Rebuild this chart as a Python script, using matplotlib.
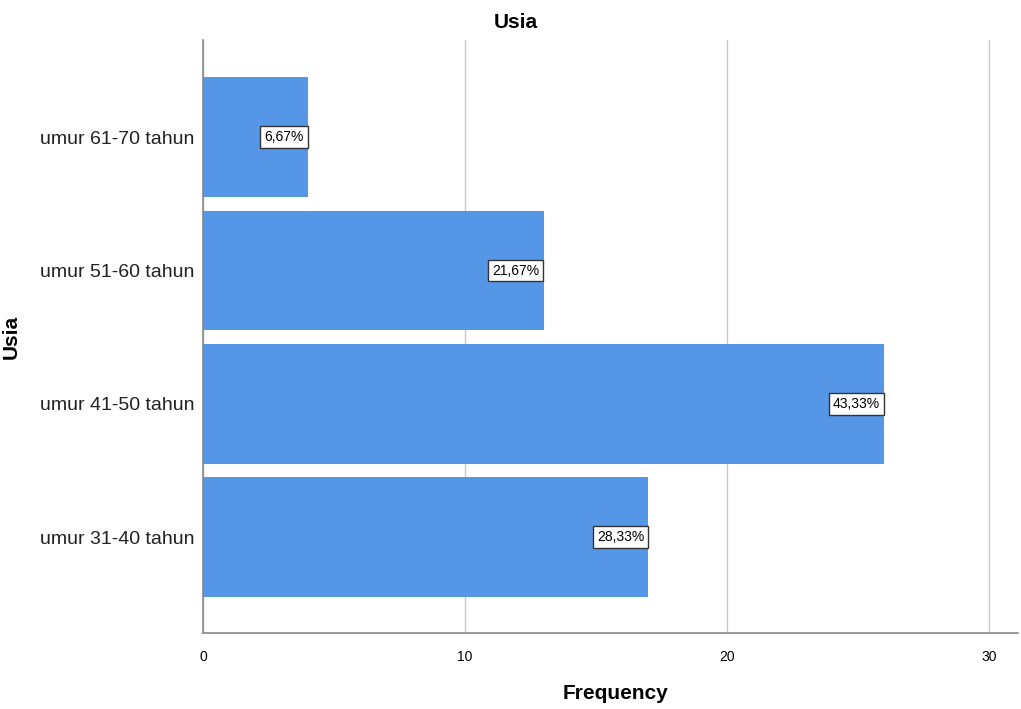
import numpy as np
import matplotlib.pyplot as plt

plt.rcParams['font.family'] = ['Liberation Sans', 'DejaVu Sans']

categories = ['umur 31-40 tahun', 'umur 41-50 tahun', 'umur 51-60 tahun', 'umur 61-70 tahun']
freq = [17, 26, 13, 4]
pct_labels = ['28,33%', '43,33%', '21,67%', '6,67%']

fig = plt.figure(figsize=(10.21, 7.09), dpi=100)
ax = fig.add_axes([0.1988, 0.1072, 0.7982, 0.8364])

y = np.arange(len(categories))
ax.barh(y, freq, height=0.9, color='#5596e6', zorder=2)

# value labels sit inside the bar end
for yi, v, lab in zip(y, freq, pct_labels):
    ax.annotate(lab, (v, yi), xytext=(-3, 0), textcoords='offset points',
                ha='right', va='center', fontsize=10, zorder=3,
                bbox=dict(boxstyle='square,pad=0.28', fc='white', ec='#333333', lw=1))

ax.set_xlim(0, 31.1)
ax.set_ylim(-0.72, 3.73)
ax.set_xticks([0, 10, 20, 30])
ax.set_yticks(y)
ax.set_yticklabels(categories, fontsize=14, color='#222222')
ax.tick_params(axis='x', labelsize=10, length=0, pad=12)
ax.tick_params(axis='y', length=0, pad=6)
ax.xaxis.grid(True, color='#c8c8c8', lw=1, zorder=0)

for s in ['top', 'right']:
    ax.spines[s].set_visible(False)
for s in ['left', 'bottom']:
    ax.spines[s].set_color('#888888')
    ax.spines[s].set_linewidth(1.2)

fig.text(0.505, 0.968, 'Usia', fontsize=15, fontweight='bold', ha='center', va='center')
ax.set_xlabel('Frequency', fontsize=15, fontweight='bold')
ax.xaxis.set_label_coords(0.506, -0.086)
ax.set_ylabel('Usia', fontsize=15, fontweight='bold')
ax.yaxis.set_label_coords(-0.224, 0.5)

fig.savefig('out.png', dpi=100)
